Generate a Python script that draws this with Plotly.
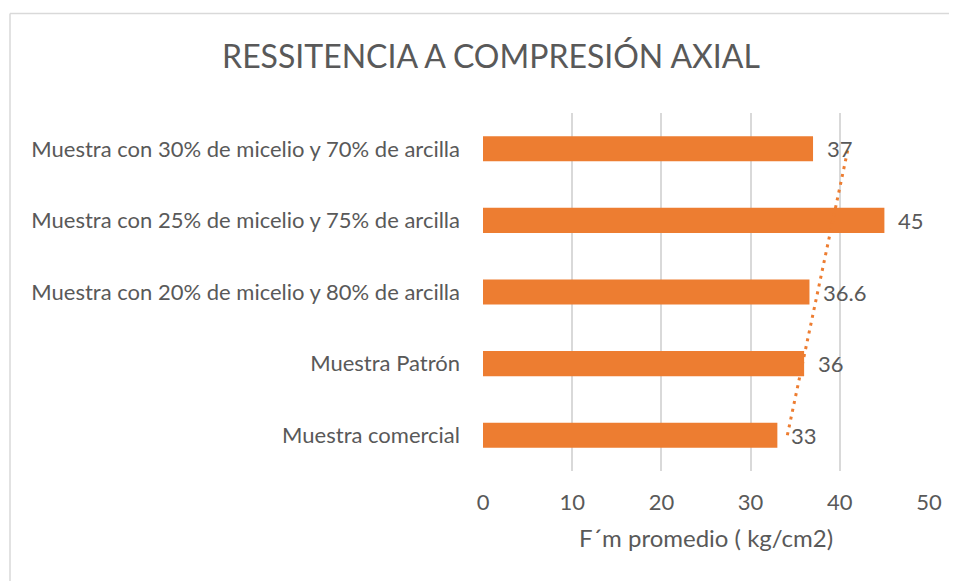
import numpy as np
import plotly.graph_objects as go

categories = [
    "Muestra comercial",
    "Muestra Patrón",
    "Muestra con 20% de micelio y 80% de arcilla",
    "Muestra con 25% de micelio y 75% de arcilla",
    "Muestra con 30% de micelio y 70% de arcilla",
]
values = [33, 36, 36.6, 45, 37]
value_labels = ["33", "36", "36.6", "45", "37"]
x_ticks = [0, 10, 20, 30, 40, 50]

title_text = "RESSITENCIA A COMPRESIÓN AXIAL"
x_title = "F´m promedio ( kg/cm2)"

ORANGE = "#ED7D31"
TEXT = "#595959"
GRID = "#D9D9D9"
FONT = "Lato"
FS = 22

# page body has an 8px margin; figure sized to fit the window
OFF = 8
W, H = 957 - OFF, 581 - OFF
L = 483 - OFF
R = W - (929 - OFF)
T = 113 - OFF
B = H - (471 - OFF)

# linear trendline (Excel-style, x = 1..n)
idx = np.arange(1, len(values) + 1)
slope, intercept = np.polyfit(idx, values, 1)
trend = slope * idx + intercept

fig = go.Figure()
fig.add_trace(go.Bar(
    x=values, y=categories, orientation="h",
    marker=dict(color=ORANGE, line=dict(width=0)),
    hoverinfo="skip", showlegend=False,
))
fig.add_trace(go.Scatter(
    x=trend, y=categories, mode="lines",
    line=dict(color=ORANGE, width=3, dash="3px,5px"),
    hoverinfo="skip", showlegend=False,
))

for c, v, t in zip(categories, values, value_labels):
    fig.add_annotation(
        x=v, y=c, text=t, showarrow=False, xanchor="left", yanchor="middle",
        xshift=12, font=dict(family=FONT, size=FS, color=TEXT),
    )

pw = W - L - R
ph = H - T - B
def px_x(p):
    return (p - OFF - L) / pw
def px_y(p):
    return (H - B - (p - OFF)) / ph

# chart border (left and top visible)
fig.add_shape(type="line", xref="paper", yref="paper",
              x0=px_x(10), x1=px_x(10), y0=px_y(600), y1=px_y(13.5),
              line=dict(color=GRID, width=1.5))
fig.add_shape(type="line", xref="paper", yref="paper",
              x0=px_x(10), x1=px_x(980), y0=px_y(13.5), y1=px_y(13.5),
              line=dict(color=GRID, width=1.5))

fig.update_layout(
    width=W, height=H,
    margin=dict(l=L, r=R, t=T, b=B, autoexpand=False),
    paper_bgcolor="white", plot_bgcolor="white",
    bargap=0.65,
    title=dict(text=title_text, x=(491 - OFF) / W, xanchor="center",
               y=1 - (57 - OFF) / H, yanchor="middle",
               font=dict(family=FONT, size=32, color=TEXT)),
    font=dict(family=FONT, color=TEXT),
    xaxis=dict(
        range=[0, 50], tickvals=x_ticks, showgrid=True, gridcolor=GRID,
        gridwidth=1.5, zeroline=False, showline=False, ticks="",
        tickfont=dict(family=FONT, size=FS, color=TEXT),
        ticklabelstandoff=16,
        title=dict(text=x_title, font=dict(family=FONT, size=24, color=TEXT),
                   standoff=16),
    ),
    yaxis=dict(
        categoryorder="array", categoryarray=categories,
        showgrid=False, zeroline=False, showline=False, ticks="",
        tickfont=dict(family=FONT, size=FS, color=TEXT),
        ticklabelstandoff=22,
    ),
)

fig.write_html("out.html")
